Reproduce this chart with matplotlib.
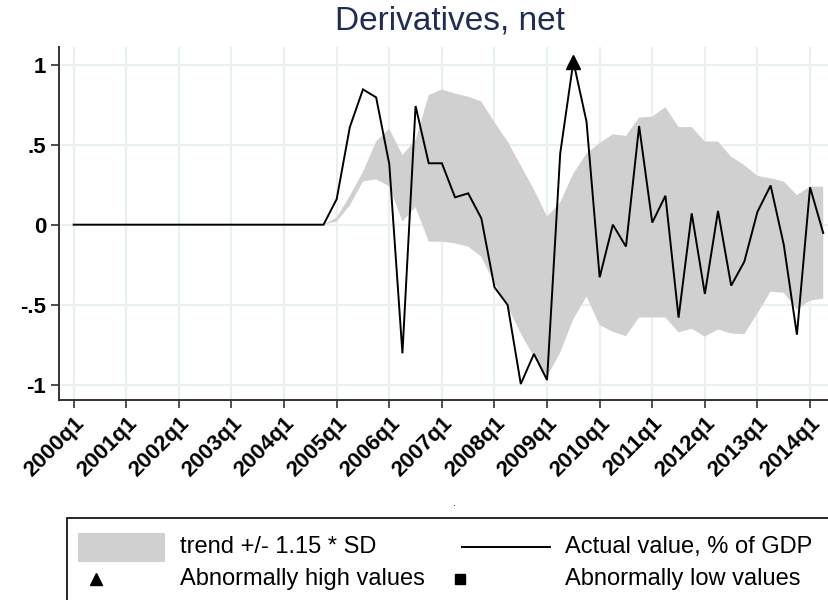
import matplotlib
matplotlib.use("Agg")
import matplotlib.pyplot as plt
import numpy as np
from matplotlib.patches import Rectangle
from matplotlib.lines import Line2D

# Quarterly series, 2000q1 .. 2014q2
quarters = [f"{y}q{q}" for y in range(2000, 2015) for q in range(1, 5)][:58]

actual = [
    0.0, 0.0, 0.0, 0.0, 0.0, 0.0, 0.0, 0.0, 0.0, 0.0,
    0.0, 0.0, 0.0, 0.0, 0.0, 0.0, 0.0, 0.0, 0.0, 0.0,
    0.16, 0.61, 0.846, 0.796, 0.379, -0.804, 0.742, 0.384, 0.384, 0.171,
    0.196, 0.04, -0.391, -0.502, -0.996, -0.808, -0.971, 0.446, 1.02, 0.644,
    -0.329, 0.0, -0.137, 0.617, 0.013, 0.181, -0.581, 0.071, -0.433, 0.086,
    -0.381, -0.231, 0.081, 0.245, -0.125, -0.688, 0.234, -0.052,
]

# Trend band (trend +/- 1.15 * SD), available from 2004q4 onwards
band_start = "2004q4"
band_upper = [
    0.0, 0.045, 0.18, 0.33, 0.52, 0.60, 0.435, 0.53, 0.81, 0.845,
    0.82, 0.80, 0.77, 0.64, 0.52, 0.37, 0.22, 0.05, 0.14, 0.32,
    0.445, 0.51, 0.565, 0.555, 0.67, 0.675, 0.735, 0.61, 0.61, 0.52,
    0.52, 0.425, 0.373, 0.305, 0.29, 0.27, 0.185, 0.238, 0.238,
]
band_lower = [
    0.0, 0.02, 0.12, 0.27, 0.283, 0.24, 0.02, 0.11, -0.106, -0.106,
    -0.117, -0.137, -0.2, -0.367, -0.51, -0.68, -0.825, -0.95, -0.80, -0.59,
    -0.45, -0.627, -0.67, -0.696, -0.58, -0.58, -0.58, -0.673, -0.65, -0.70,
    -0.655, -0.68, -0.685, -0.554, -0.419, -0.425, -0.53, -0.475, -0.462,
]

abnormal_high = ["2009q3"]
abnormal_low = []

yticks = [-1, -0.5, 0, 0.5, 1]
ytick_labels = ["-1", "-.5", "0", ".5", "1"]
xtick_every = 4

title = "Derivatives, net"
legend_labels = ["trend +/- 1.15 * SD", "Actual value, % of GDP",
                 "Abnormally high values", "Abnormally low values"]

plt.rcParams["font.family"] = ["Liberation Sans", "DejaVu Sans"]

W, H = 829, 600
fig = plt.figure(figsize=(W / 100, H / 100), dpi=100)
fig.patch.set_facecolor("white")

ax = fig.add_axes([58.7 / W, 1 - 400 / H, 1 - 58.7 / W, (400 - 47.3) / H])

x = np.arange(len(quarters))
b0 = quarters.index(band_start)
xb = x[b0:b0 + len(band_upper)]

ax.fill_between(xb, band_lower, band_upper, facecolor="#d0d0d0",
                edgecolor="none", zorder=2)
ax.plot(x, actual, color="black", lw=1.4, zorder=3, solid_joinstyle="miter")

hi_idx = [quarters.index(q) for q in abnormal_high]
lo_idx = [quarters.index(q) for q in abnormal_low]
ax.plot(hi_idx, [actual[i] for i in hi_idx], "^", color="black",
        markersize=10, zorder=4, clip_on=False)
ax.plot(lo_idx, [actual[i] for i in lo_idx], "s", color="black",
        markersize=8, zorder=4, clip_on=False)

ax.set_xlim(-1.14, 57.44)
ax.set_ylim(-1.096, 1.109)

ax.set_yticks(yticks)
ax.set_yticklabels(ytick_labels, fontsize=16, fontweight="bold")
xt = x[::xtick_every]
ax.set_xticks(xt)
ax.set_xticklabels([quarters[i] for i in xt], rotation=45, ha="right",
                   rotation_mode="anchor", fontsize=16, fontweight="bold")

ax.grid(True, color="#e8f0f2", lw=1.6, zorder=0)
ax.set_axisbelow(True)
for s in ["top", "right"]:
    ax.spines[s].set_visible(False)
for s in ["left", "bottom"]:
    ax.spines[s].set_color("#333333")
    ax.spines[s].set_linewidth(1.4)
ax.tick_params(axis="both", direction="out", length=6, width=1.2,
               color="#333333", pad=3)

fig.text(0.543, 1 - 21 / H, title, ha="center", va="center",
         fontsize=24, color="#1f2d54")
fig.text(455 / W, 1 - 503 / H, ".", ha="center", va="center", fontsize=8)

# Legend box
fx = lambda px: px / W
fy = lambda py: 1 - py / H
fig.patches.append(Rectangle((fx(67), fy(640)), fx(800), (640 - 518) / H,
                             transform=fig.transFigure, facecolor="white",
                             edgecolor="black", lw=1.2, zorder=1))
fig.patches.append(Rectangle((fx(78), fy(562)), fx(87), 29 / H,
                             transform=fig.transFigure, facecolor="#d0d0d0",
                             edgecolor="none", zorder=2))
fig.lines.append(Line2D([fx(462), fx(550)], [fy(547), fy(547)],
                        transform=fig.transFigure, color="black", lw=1.4))
fig.lines.append(Line2D([fx(96)], [fy(579)], transform=fig.transFigure,
                        marker="^", color="black", markersize=8, ls="none"))
fig.lines.append(Line2D([fx(460)], [fy(579)], transform=fig.transFigure,
                        marker="s", color="black", markersize=7, ls="none"))
for (px, py), lab in zip([(180, 547), (565, 547), (180, 579), (565, 579)],
                         legend_labels):
    fig.text(fx(px), fy(py), lab, ha="left", va="center", fontsize=17)

fig.savefig("out.png", dpi=100)
